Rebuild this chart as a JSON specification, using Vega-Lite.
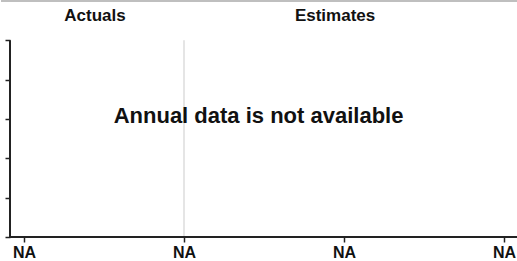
{
  "$schema": "https://vega.github.io/schema/vega-lite/v6.json",
  "width": 517,
  "height": 236,
  "padding": 0,
  "autosize": {"type": "pad"},
  "config": {"view": {"stroke": null}, "font": "Liberation Sans"},
  "layer": [
    {
      "data": {"values": [{"x": 1, "y": 0, "y2": 5}]},
      "mark": {"type": "rule", "color": "#dcdcdc", "strokeWidth": 1.5},
      "encoding": {
        "x": {"field": "x", "type": "quantitative",
              "scale": {"domain": [-0.14375, 3.0875], "nice": false, "zero": false},
              "axis": {"title": null, "values": [0, 1, 2, 3], "labelExpr": "'NA'", "domain": false, "grid": false,
                       "tickSize": 5, "tickWidth": 1.5, "tickColor": "#222", "labelFont": "Liberation Sans",
                       "labelFontWeight": "bold", "labelFontSize": 16, "labelColor": "#111", "labelPadding": 2,
                       "labelFlush": false, "labelOverlap": false}},
        "y": {"field": "y", "type": "quantitative",
              "scale": {"domain": [0, 6], "nice": false, "zero": false},
              "axis": {"title": null, "values": [0, 1, 2, 3, 4, 5], "labels": false, "domain": false, "grid": false,
                       "tickSize": 5, "tickWidth": 1.5, "tickColor": "#222", "offset": -9}},
        "y2": {"field": "y2"}
      }
    },
    {
      "data": {"values": [{"y": 6}]},
      "mark": {"type": "rule", "color": "#aaaaaa", "strokeWidth": 1.5},
      "encoding": {"y": {"field": "y", "type": "quantitative"}}
    },
    {
      "data": {"values": [{"x": -0.0875, "y": 0, "y2": 5}]},
      "mark": {"type": "rule", "color": "#222222", "strokeWidth": 2},
      "encoding": {
        "x": {"field": "x", "type": "quantitative"},
        "y": {"field": "y", "type": "quantitative"},
        "y2": {"field": "y2"}
      }
    },
    {
      "data": {"values": [{"x": -0.0875, "x2": 3.0875, "y": 0}]},
      "mark": {"type": "rule", "color": "#222222", "strokeWidth": 2},
      "encoding": {
        "x": {"field": "x", "type": "quantitative"},
        "x2": {"field": "x2"},
        "y": {"field": "y", "type": "quantitative"}
      }
    },
    {
      "data": {"values": [{"label": "Actuals", "x": 0.444, "y": 5.63}, {"label": "Estimates", "x": 1.944, "y": 5.63}]},
      "mark": {"type": "text", "font": "Liberation Sans", "fontWeight": "bold", "fontSize": 17, "color": "#111", "baseline": "middle", "align": "center"},
      "encoding": {
        "x": {"field": "x", "type": "quantitative"},
        "y": {"field": "y", "type": "quantitative"},
        "text": {"field": "label"}
      }
    },
    {
      "data": {"values": [{"label": "Annual data is not available", "x": 1.466, "y": 3.08}]},
      "mark": {"type": "text", "font": "Liberation Sans", "fontWeight": "bold", "fontSize": 22, "color": "#111", "baseline": "middle", "align": "center"},
      "encoding": {
        "x": {"field": "x", "type": "quantitative"},
        "y": {"field": "y", "type": "quantitative"},
        "text": {"field": "label"}
      }
    }
  ]
}
